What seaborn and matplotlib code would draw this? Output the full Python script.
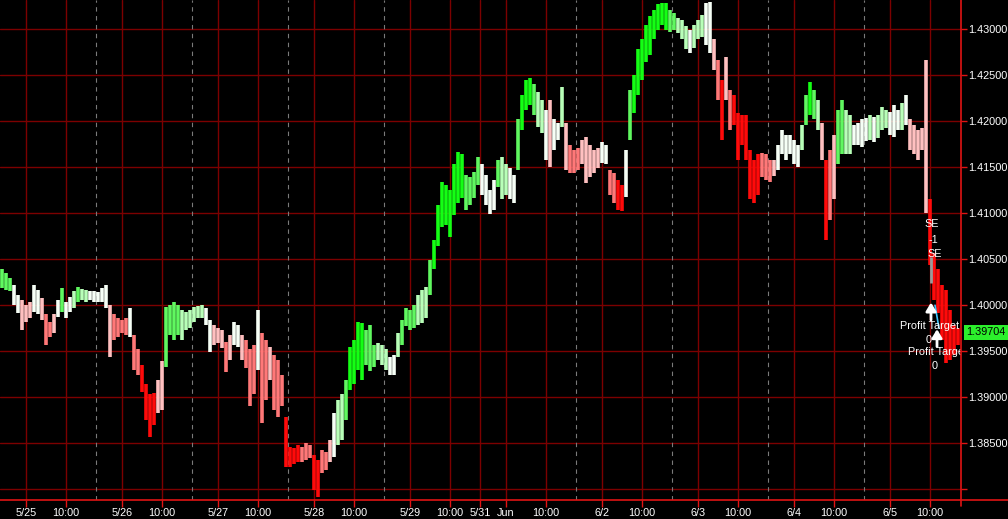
import numpy as np
import pandas as pd
import matplotlib
matplotlib.use("Agg")
import matplotlib.pyplot as plt
from matplotlib.lines import Line2D
import seaborn as sns

# hourly bars, x = trading hours since 5/25 00:00 (weekend removed)
hours = np.arange(-6, 234)

high = [
    1.4039, 1.4035, 1.4030, 1.4022, 1.4011, 1.4006, 1.4000, 1.4003, 1.4022, 1.4017,
    1.4008, 1.3990, 1.3982, 1.3990, 1.4006, 1.4019, 1.4003, 1.4009, 1.4015, 1.4020,
    1.4018, 1.4017, 1.4015, 1.4016, 1.4014, 1.4019, 1.4022, 1.4000, 1.3990, 1.3986,
    1.3984, 1.3986, 1.3997, 1.3968, 1.3952, 1.3935, 1.3914, 1.3903, 1.3905, 1.3919,
    1.3939, 1.3998, 1.4000,
    1.4003, 1.4000, 1.3995, 1.3993, 1.3995, 1.3998, 1.3999, 1.4000, 1.3997, 1.3984,
    1.3979, 1.3975, 1.3973, 1.3960, 1.3968, 1.3982, 1.3979, 1.3968, 1.3962, 1.3952,
    1.3957, 1.3995, 1.3970, 1.3962, 1.3955, 1.3946, 1.3941, 1.3924, 1.3879, 1.3846,
    1.3845, 1.3848, 1.3846, 1.3850, 1.3848, 1.3837, 1.3832, 1.3843, 1.3841, 1.3854,
    1.3883,
    1.3897, 1.3903, 1.3919, 1.3955, 1.3962, 1.3982, 1.3981, 1.3973, 1.3979, 1.3957,
    1.3959, 1.3957, 1.3952, 1.3944, 1.3946, 1.3970, 1.3984, 1.3997, 1.3995, 1.4000,
    1.4011, 1.4017, 1.4020, 1.4049, 1.4071, 1.4109, 1.4134, 1.4131, 1.4125, 1.4153,
    1.4167, 1.4164, 1.4142, 1.4139, 1.4145, 1.4161, 1.4153, 1.4142, 1.4125, 1.4136,
    1.4158,
    1.4161, 1.4153, 1.4149, 1.4142, 1.4202, 1.4229, 1.4245, 1.4247, 1.4240, 1.4232,
    1.4223, 1.4212, 1.4223, 1.4202, 1.4198, 1.4237, 1.4198, 1.4174, 1.4169, 1.4171,
    1.4180, 1.4183, 1.4174, 1.4169, 1.4171, 1.4177, 1.4174, 1.4147, 1.4144, 1.4136,
    1.4131, 1.4169, 1.4234, 1.4250, 1.4278, 1.4289, 1.4305, 1.4314, 1.4321, 1.4327,
    1.4329, 1.4329,
    1.4321, 1.4318, 1.4312, 1.4310, 1.4303, 1.4299, 1.4305, 1.4310, 1.4316, 1.4329,
    1.4330, 1.4289, 1.4267, 1.4245, 1.4270, 1.4234, 1.4229, 1.4209, 1.4207, 1.4207,
    1.4169, 1.4158, 1.4164, 1.4166, 1.4164, 1.4158, 1.4158, 1.4174, 1.4191, 1.4185,
    1.4185, 1.4180, 1.4174, 1.4196, 1.4229, 1.4243, 1.4234, 1.4223, 1.4198, 1.4158,
    1.4169,
    1.4185, 1.4212, 1.4223, 1.4212, 1.4207, 1.4196, 1.4198, 1.4202, 1.4204, 1.4207,
    1.4205, 1.4207, 1.4215, 1.4212, 1.4210, 1.4218, 1.4212, 1.4220, 1.4229, 1.4202,
    1.4196, 1.4191, 1.4193, 1.4267, 1.4115, 1.4057, 1.4039, 1.4022, 1.4017, 1.3995,
    1.3979, 1.3975,
]

low = [
    1.4019, 1.4017, 1.4015, 1.4000, 1.3992, 1.3973, 1.3982, 1.3986, 1.3993, 1.3990,
    1.3984, 1.3957, 1.3965, 1.3970, 1.3987, 1.3993, 1.3986, 1.3993, 1.3997, 1.4004,
    1.4006, 1.4004, 1.4006, 1.4004, 1.4003, 1.4004, 1.3997, 1.3944, 1.3962, 1.3966,
    1.3970, 1.3968, 1.3965, 1.3930, 1.3924, 1.3906, 1.3875, 1.3857, 1.3870, 1.3883,
    1.3886, 1.3933, 1.3968,
    1.3962, 1.3968, 1.3962, 1.3973, 1.3975, 1.3982, 1.3986, 1.3986, 1.3979, 1.3949,
    1.3957, 1.3959, 1.3954, 1.3927, 1.3941, 1.3957, 1.3955, 1.3941, 1.3932, 1.3890,
    1.3903, 1.3930, 1.3872, 1.3897, 1.3919, 1.3886, 1.3879, 1.3890, 1.3824, 1.3824,
    1.3827, 1.3830, 1.3830, 1.3832, 1.3834, 1.3799, 1.3792, 1.3818, 1.3821, 1.3830,
    1.3835,
    1.3848, 1.3854, 1.3875, 1.3908, 1.3914, 1.3930, 1.3919, 1.3935, 1.3928, 1.3933,
    1.3941, 1.3935, 1.3930, 1.3924, 1.3924, 1.3944, 1.3957, 1.3977, 1.3973, 1.3975,
    1.3979, 1.3981, 1.3986, 1.4011, 1.4039, 1.4064, 1.4085, 1.4087, 1.4074, 1.4098,
    1.4111, 1.4117, 1.4104, 1.4109, 1.4117, 1.4131, 1.4120, 1.4109, 1.4099, 1.4104,
    1.4129,
    1.4115, 1.4120, 1.4115, 1.4111, 1.4147, 1.4191, 1.4212, 1.4218, 1.4207, 1.4194,
    1.4187, 1.4158, 1.4150, 1.4169, 1.4180, 1.4194, 1.4147, 1.4144, 1.4144, 1.4147,
    1.4153, 1.4133, 1.4139, 1.4144, 1.4149, 1.4155, 1.4153, 1.4120, 1.4111, 1.4104,
    1.4102, 1.4118, 1.4180, 1.4209, 1.4229, 1.4245, 1.4264, 1.4272, 1.4289, 1.4299,
    1.4305, 1.4299,
    1.4297, 1.4299, 1.4296, 1.4289, 1.4278, 1.4274, 1.4280, 1.4289, 1.4292, 1.4283,
    1.4274, 1.4256, 1.4223, 1.4180, 1.4223, 1.4191, 1.4196, 1.4158, 1.4174, 1.4158,
    1.4115, 1.4111, 1.4120, 1.4139, 1.4136, 1.4134, 1.4140, 1.4147, 1.4164, 1.4158,
    1.4164, 1.4153, 1.4150, 1.4169, 1.4196, 1.4207, 1.4202, 1.4191, 1.4158, 1.4071,
    1.4093,
    1.4115, 1.4153, 1.4164, 1.4164, 1.4164, 1.4174, 1.4174, 1.4172, 1.4178, 1.4180,
    1.4177, 1.4182, 1.4191, 1.4193, 1.4185, 1.4183, 1.4191, 1.4191, 1.4196, 1.4169,
    1.4164, 1.4158, 1.4169, 1.4100, 1.4044, 1.4006, 1.3992, 1.3962, 1.3937, 1.3941,
    1.3946, 1.3957,
]

# trend colour per bar: G strong up ... w flat ... R strong down
trend = ("gggwwpppwwpqqpwgwwlgllwwwwwpqqqqwqqRRRRppgg"
         "ggllllllwwpppqpwwpqqqwqqpqqqRRRRqqqRRqqpw"
         "llgGGGGggglllwwlgggglllgGGGGGGGGggggwwwwg"
         "llwwgGGGgllwpwwlpqqqpppppwwqqRRwgGGGGGGGGG"
         "gglllwlllwwpqRpqRRRRRRRqqqpwwwwwwlgGglpRq"
         "pggllwwwwlwlllwwwlwpppppRRRRRRRR")

last_price = 1.39704

tick_hours = [0, 10, 24, 34, 48, 58, 72, 82, 96, 106, 113.5, 120, 130,
              144, 154, 168, 178, 192, 202, 216, 226]
tick_labels = ['5/25', '10:00', '5/26', '10:00', '5/27', '10:00', '5/28', '10:00',
               '5/29', '10:00', '5/31', 'Jun', '10:00', '6/2', '10:00', '6/3',
               '10:00', '6/4', '10:00', '6/5', '10:00']
session_hours = [17.5, 41.5, 65.5, 89.5, 137.5, 161.5, 185.5, 209.5]
price_ticks = [1.380, 1.385, 1.390, 1.395, 1.400, 1.405, 1.410, 1.415,
               1.420, 1.425, 1.430]

df = pd.DataFrame({'hour': hours, 'high': high, 'low': low, 'trend': list(trend)})

palette = {'G': '#14ff14', 'g': '#60f860', 'l': '#b8ffb8', 'w': '#f6fff6',
           'p': '#ffc0c0', 'q': '#ff7878', 'R': '#ff0a0a'}

sns.set_theme(style='dark', rc={'axes.facecolor': 'black', 'figure.facecolor': 'black'})
plt.rcParams['font.family'] = ['Liberation Sans', 'DejaVu Sans']

fig = plt.figure(figsize=(10.08, 5.19), dpi=100)
ax = fig.add_axes([0, 19 / 519, 961 / 1008, 500 / 519])
ax.set_facecolor('black')

grid_red = '#7c0000'
axis_red = '#e01414'
for p in price_ticks:
    ax.axhline(p, color=grid_red, lw=1, zorder=1)
for t in tick_hours:
    ax.axvline(t, color=grid_red, lw=1, zorder=1)
for s in session_hours:
    ax.axvline(s, color='#7a7a7a', lw=0.8, ls=(0, (4, 4)), zorder=1)

for code, color in palette.items():
    sub = df[df['trend'] == code]
    ax.vlines(sub['hour'], sub['low'], sub['high'], color=color, lw=2.6, zorder=3)

ax.set_xlim(-6.5, 233.75)
ax.set_ylim(1.37883, 1.43318)

ax.set_xticks(tick_hours)
ax.set_xticklabels(tick_labels)
ax.yaxis.tick_right()
ax.set_yticks(price_ticks)
ax.set_yticklabels([''] + [f'{p:.5f}' for p in price_ticks[1:]])
ax.tick_params(axis='x', bottom=True, color=axis_red, labelcolor='white',
               length=5, width=1, pad=1, labelsize=7.8)
ax.tick_params(axis='y', right=True, left=False, color=axis_red, labelcolor='white',
               length=4, width=1, pad=1.5, labelsize=7.8)
for sp in ax.spines.values():
    sp.set_visible(False)
ax.grid(False)

fig.add_artist(Line2D([0, 1], [19 / 519, 19 / 519], color=axis_red, lw=1.2))
fig.add_artist(Line2D([961 / 1008, 961 / 1008], [13 / 519, 1], color=axis_red, lw=1.2))

# last price marker
ax.annotate(f'{last_price:.5f}', xy=(1.0, last_price), xycoords=('axes fraction', 'data'),
            xytext=(4, 0), textcoords='offset points', ha='left', va='center',
            fontsize=7.8, color='black', annotation_clip=False,
            bbox=dict(boxstyle='square,pad=0.22', fc='#2cf02c', ec='none'))

# trade signals
ax.vlines(226.25, 1.4024, 1.4052, color='#9a9a9a', lw=2, zorder=4)
ax.plot([227.25, 228.25], [1.4000, 1.3975], color='#40c8ff', lw=1.2, zorder=4)
for hx, y0, y1 in [(226.25, 1.3984, 1.4003), (227.75, 1.3955, 1.3974)]:
    ax.annotate('', xy=(hx, y1), xytext=(hx, y0),
                arrowprops=dict(arrowstyle='-|>,head_length=0.5,head_width=0.3',
                                color='white', lw=2, mutation_scale=10,
                                shrinkA=0, shrinkB=0),
                zorder=5)
signals = [('SE', 226.5, 1.40883), ('-1', 226.75, 1.40709), ('SE', 227.25, 1.40557),
           ('Profit Target', 226.0, 1.39775), ('0', 225.75, 1.39622),
           ('Profit Target', 228.0, 1.39492), ('0', 227.25, 1.39340)]
for txt, hx, py in signals:
    ax.text(hx, py, txt, color='white', fontsize=7.8, ha='center', va='center',
            clip_on=True, zorder=6)

fig.savefig('out.png', dpi=100, facecolor='black')
